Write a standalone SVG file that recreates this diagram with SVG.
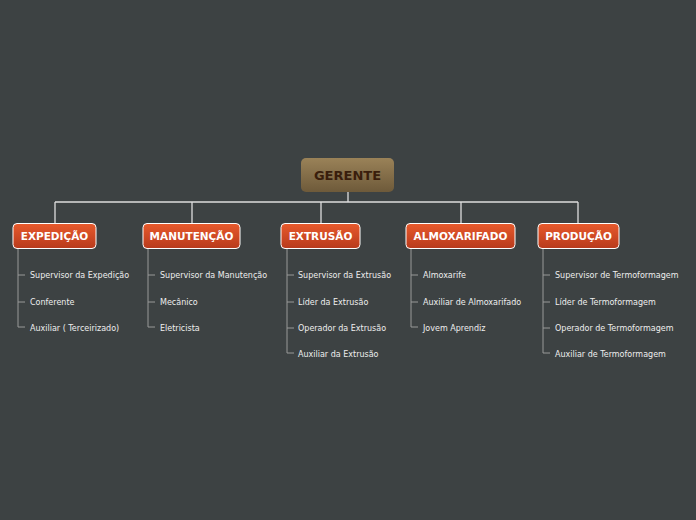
<svg xmlns="http://www.w3.org/2000/svg" width="696" height="520" viewBox="0 0 696 520">
<defs>
<linearGradient id="gr" x1="0" y1="0" x2="0" y2="1"><stop offset="0" stop-color="#e85a2c"/><stop offset="1" stop-color="#b83a1c"/></linearGradient>
<linearGradient id="gb" x1="0" y1="0" x2="0" y2="1"><stop offset="0" stop-color="#9a8258"/><stop offset="1" stop-color="#6e5a3a"/></linearGradient>
</defs>
<style>
.b{fill:url(#gr);stroke:#fff;stroke-width:1}
.t{font-family:"DejaVu Sans",sans-serif;font-weight:bold;font-size:10.5px;fill:#fff;text-anchor:middle}
.c{font-family:"DejaVu Sans",sans-serif;font-size:8px;fill:#eee}
.l{stroke:#ddd;stroke-width:1.3;fill:none}
.s{stroke:#999;stroke-width:1;fill:none}
</style>
<rect width="696" height="520" fill="#3d4243"/>
<g id="connectors">
<path class="l" d="M348 192V202M55 202H578M55 202V223M192 202V223M321 202V223M461 202V223M578 202V223"/>
<path class="s" d="M18 248V327H25M18 275H25M18 302H25"/>
<path class="s" d="M148 248V327H155M148 275H155M148 302H155"/>
<path class="s" d="M287 248V353H294M287 275H294M287 302H294M287 328H294"/>
<path class="s" d="M411 248V327H418M411 275H418M411 302H418"/>
<path class="s" d="M543 248V353H550M543 275H550M543 302H550M543 328H550"/>
</g>
<g id="gerente"><rect x="301" y="158" width="93" height="34" rx="5" fill="url(#gb)"/><text x="347.5" y="180" class="t" style="font-size:13px;fill:#3a1e0c">GERENTE</text></g>
<g id="expedicao"><rect class="b" x="13" y="223.5" width="83" height="25" rx="4"/><text class="t" x="54.5" y="240">EXPEDIÇÃO</text>
<text class="c" x="30" y="278">Supervisor da Expedição</text><text class="c" x="30" y="305">Conferente</text><text class="c" x="30" y="331">Auxiliar ( Terceirizado)</text></g>
<g id="manutencao"><rect class="b" x="143" y="223.5" width="97" height="25" rx="4"/><text class="t" x="191.5" y="240">MANUTENÇÃO</text>
<text class="c" x="160" y="278">Supervisor da Manutenção</text><text class="c" x="160" y="305">Mecânico</text><text class="c" x="160" y="331">Eletricista</text></g>
<g id="extrusao"><rect class="b" x="281" y="223.5" width="79" height="25" rx="4"/><text class="t" x="320.5" y="240">EXTRUSÃO</text>
<text class="c" x="298" y="278">Supervisor da Extrusão</text><text class="c" x="298" y="305">Líder da Extrusão</text><text class="c" x="298" y="331">Operador da Extrusão</text><text class="c" x="298" y="357">Auxiliar da Extrusão</text></g>
<g id="almoxarifado"><rect class="b" x="406" y="223.5" width="109" height="25" rx="4"/><text class="t" x="460.5" y="240">ALMOXARIFADO</text>
<text class="c" x="423" y="278">Almoxarife</text><text class="c" x="423" y="305">Auxiliar de Almoxarifado</text><text class="c" x="423" y="331">Jovem Aprendiz</text></g>
<g id="producao"><rect class="b" x="538" y="223.5" width="81" height="25" rx="4"/><text class="t" x="578.5" y="240">PRODUÇÃO</text>
<text class="c" x="555" y="278">Supervisor de Termoformagem</text><text class="c" x="555" y="305">Líder de Termoformagem</text><text class="c" x="555" y="331">Operador de Termoformagem</text><text class="c" x="555" y="357">Auxiliar de Termoformagem</text></g>
</svg>
